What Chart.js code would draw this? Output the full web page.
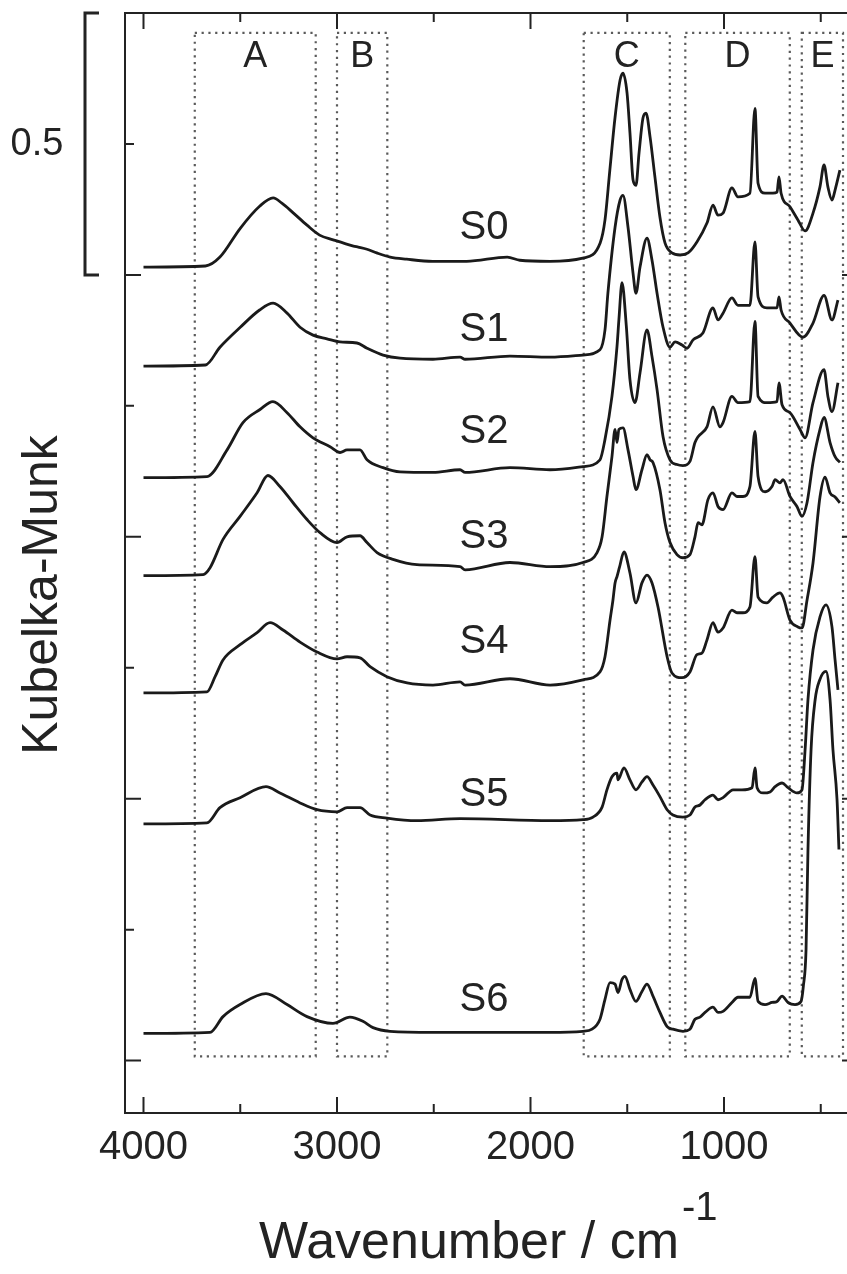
<!DOCTYPE html>
<html>
<head>
<meta charset="utf-8">
<script src="https://cdn.jsdelivr.net/npm/chart.js@4.4.1/dist/chart.umd.min.js"></script>
<style>
  html, body { margin: 0; padding: 0; background: #fff; overflow: hidden; }
  #wrap { position: absolute; left: 0; top: 0; width: 880px; height: 1274px; }
</style>
</head>
<body>
<div id="wrap"><canvas id="km" width="880" height="1274"></canvas></div>
<script>
  // DRIFT spectra, Kubelka-Munk units above each sample's own baseline: [wavenumber, KM]
  const S0 = [[4000,0],[3680,0.002],[3605,0.019],[3500,0.074],[3400,0.116],[3330,0.132],[3285,0.122],[3225,0.103],[3155,0.080],[3090,0.061],[3020,0.052],[2915,0.040],[2890,0.038],[2845,0.034],[2795,0.027],[2725,0.019],[2640,0.015],[2505,0.011],[2330,0.011],[2120,0.019],[2055,0.013],[1900,0.011],[1730,0.017],[1640,0.046],[1615,0.090],[1590,0.185],[1563,0.286],[1537,0.357],[1522,0.370],[1501,0.332],[1486,0.256],[1470,0.166],[1455,0.156],[1439,0.218],[1419,0.284],[1403,0.294],[1382,0.248],[1357,0.172],[1331,0.095],[1305,0.046],[1269,0.027],[1227,0.023],[1186,0.027],[1140,0.048],[1088,0.084],[1057,0.118],[1031,0.099],[1005,0.103],[959,0.151],[928,0.134],[866,0.141],[840,0.303],[824,0.160],[788,0.141],[747,0.141],[726,0.143],[716,0.172],[705,0.141],[659,0.115],[618,0.090],[581,0.069],[540,0.103],[504,0.153],[483,0.195],[463,0.153],[442,0.128],[426,0.147],[401,0.185]];
  const S1 = [[4000,0],[3680,0.002],[3605,0.036],[3500,0.074],[3400,0.107],[3330,0.120],[3258,0.101],[3191,0.074],[3124,0.059],[3052,0.052],[2984,0.046],[2897,0.044],[2845,0.034],[2762,0.021],[2674,0.015],[2504,0.013],[2364,0.017],[2338,0.013],[2106,0.019],[1899,0.017],[1729,0.021],[1641,0.031],[1615,0.069],[1600,0.139],[1563,0.265],[1537,0.317],[1522,0.326],[1496,0.265],[1470,0.177],[1455,0.139],[1434,0.189],[1398,0.244],[1372,0.202],[1346,0.139],[1315,0.074],[1279,0.036],[1253,0.046],[1217,0.040],[1191,0.034],[1160,0.050],[1109,0.063],[1057,0.111],[1031,0.088],[1005,0.101],[959,0.130],[928,0.116],[866,0.116],[840,0.237],[824,0.132],[778,0.111],[726,0.111],[716,0.132],[705,0.107],[659,0.082],[592,0.055],[540,0.082],[483,0.135],[442,0.088],[411,0.126]];
  const S2 = [[4000,0],[3672,0.002],[3568,0.053],[3486,0.105],[3398,0.130],[3331,0.145],[3258,0.124],[3191,0.097],[3124,0.076],[3036,0.059],[2984,0.048],[2948,0.053],[2881,0.053],[2845,0.034],[2762,0.019],[2674,0.011],[2504,0.010],[2364,0.015],[2338,0.010],[2106,0.019],[1899,0.015],[1729,0.021],[1641,0.034],[1615,0.073],[1579,0.155],[1553,0.250],[1543,0.302],[1527,0.372],[1505,0.290],[1486,0.187],[1460,0.143],[1434,0.200],[1398,0.282],[1372,0.231],[1346,0.168],[1315,0.078],[1279,0.034],[1243,0.025],[1212,0.023],[1176,0.031],[1150,0.067],[1134,0.078],[1088,0.097],[1057,0.135],[1021,0.097],[1005,0.105],[959,0.155],[928,0.143],[866,0.145],[840,0.298],[824,0.155],[778,0.143],[726,0.145],[716,0.181],[700,0.139],[659,0.124],[607,0.092],[581,0.076],[540,0.143],[483,0.206],[463,0.155],[442,0.126],[411,0.181]];
  const S3 = [[4000,0],[3692,0.002],[3656,0.015],[3589,0.069],[3501,0.113],[3413,0.158],[3357,0.191],[3295,0.170],[3227,0.139],[3155,0.107],[3088,0.082],[3000,0.063],[2948,0.074],[2881,0.076],[2845,0.063],[2793,0.044],[2711,0.031],[2587,0.021],[2364,0.017],[2338,0.011],[2106,0.025],[1899,0.017],[1729,0.025],[1656,0.044],[1630,0.074],[1605,0.151],[1579,0.227],[1563,0.279],[1553,0.254],[1543,0.279],[1522,0.282],[1496,0.240],[1470,0.189],[1455,0.164],[1424,0.202],[1398,0.231],[1382,0.221],[1367,0.216],[1331,0.164],[1305,0.101],[1279,0.063],[1243,0.040],[1212,0.034],[1176,0.040],[1150,0.074],[1134,0.101],[1114,0.097],[1083,0.145],[1057,0.158],[1031,0.132],[1005,0.126],[959,0.158],[933,0.151],[902,0.151],[866,0.170],[840,0.275],[824,0.189],[788,0.160],[752,0.170],[736,0.183],[711,0.177],[695,0.183],[659,0.151],[623,0.132],[597,0.113],[571,0.139],[540,0.216],[504,0.279],[483,0.302],[452,0.254],[426,0.227],[401,0.216]];
  const S4 = [[4000,0],[3672,0.002],[3630,0.031],[3589,0.063],[3501,0.092],[3413,0.115],[3346,0.134],[3279,0.120],[3191,0.097],[3103,0.078],[3000,0.065],[2948,0.069],[2881,0.067],[2829,0.050],[2742,0.031],[2638,0.019],[2504,0.015],[2364,0.021],[2338,0.015],[2106,0.027],[1899,0.015],[1729,0.025],[1641,0.040],[1615,0.069],[1589,0.139],[1574,0.177],[1563,0.210],[1553,0.222],[1540,0.240],[1517,0.269],[1486,0.229],[1455,0.172],[1424,0.210],[1398,0.225],[1372,0.210],[1341,0.164],[1294,0.069],[1269,0.038],[1217,0.029],[1176,0.040],[1140,0.073],[1114,0.076],[1088,0.101],[1057,0.134],[1031,0.116],[1005,0.124],[959,0.158],[933,0.153],[902,0.153],[866,0.164],[840,0.260],[824,0.183],[778,0.172],[747,0.183],[711,0.191],[695,0.183],[659,0.139],[618,0.126],[597,0.124],[571,0.177],[540,0.248],[504,0.374],[478,0.412],[452,0.382],[426,0.374],[401,0.363]];
  const S5 = [[4000,0],[3672,0.002],[3605,0.031],[3501,0.050],[3367,0.071],[3295,0.059],[3191,0.040],[3103,0.027],[3000,0.023],[2948,0.031],[2881,0.031],[2829,0.017],[2742,0.011],[2587,0.006],[2364,0.010],[1899,0.006],[1729,0.008],[1677,0.013],[1630,0.032],[1605,0.065],[1579,0.090],[1553,0.097],[1548,0.084],[1517,0.107],[1486,0.084],[1455,0.065],[1424,0.080],[1398,0.090],[1367,0.074],[1331,0.052],[1294,0.027],[1264,0.017],[1212,0.013],[1176,0.017],[1150,0.032],[1124,0.036],[1098,0.046],[1057,0.055],[1031,0.046],[1005,0.050],[953,0.065],[907,0.065],[855,0.069],[840,0.107],[829,0.069],[798,0.059],[762,0.061],[736,0.071],[700,0.078],[669,0.069],[623,0.059],[597,0.065],[581,0.141],[566,0.237],[540,0.332],[504,0.395],[473,0.418],[442,0.376],[426,0.313],[411,0.256]];
  const S6 = [[4000,0],[3656,0.002],[3589,0.032],[3501,0.055],[3367,0.076],[3258,0.055],[3155,0.032],[3021,0.019],[2933,0.031],[2866,0.023],[2814,0.011],[2726,0.004],[2504,0.002],[1899,0.002],[1729,0.004],[1682,0.008],[1641,0.027],[1615,0.065],[1589,0.097],[1563,0.094],[1548,0.078],[1527,0.103],[1512,0.109],[1486,0.084],[1455,0.061],[1424,0.080],[1398,0.094],[1367,0.071],[1331,0.040],[1294,0.013],[1264,0.008],[1212,0.004],[1176,0.008],[1150,0.027],[1124,0.031],[1098,0.040],[1057,0.050],[1031,0.040],[1005,0.042],[959,0.059],[928,0.069],[866,0.069],[840,0.105],[824,0.061],[788,0.055],[752,0.059],[726,0.061],[700,0.071],[669,0.059],[633,0.055],[602,0.061],[590,0.090],[576,0.160],[566,0.351],[550,0.542],[529,0.637],[505,0.675],[473,0.691],[452,0.637],[437,0.542],[416,0.447],[406,0.351]];

  const sampleNames = ['S0', 'S1', 'S2', 'S3', 'S4', 'S5', 'S6'];
  const spectra = [S0, S1, S2, S3, S4, S5, S6];
  // vertical stacking offset of each spectrum (KM units)
  const stackOffsets = [1.515, 1.326, 1.113, 0.926, 0.702, 0.452, 0.052];

  // band regions marked with dotted boxes (cm-1)
  const regionNames = ['A', 'B', 'C', 'D', 'E'];
  const regionFrom = [3735, 3000, 1725, 1200, 598];
  const regionTo = [3110, 2740, 1280, 660, 385];

  const xMajorTicks = [4000, 3000, 2000, 1000];
  const xMinorTicks = [3500, 2500, 1500, 500];
  const yMajorTicks = [0, 0.5, 1.0, 1.5];
  const yMinorTicks = [0.25, 0.75, 1.25, 1.75];
  const scaleBar = [1.5, 2.0]; // 0.5 KM

  const FONT = '"Liberation Sans", Arial, Helvetica, sans-serif';
  const INK = '#232323';
  // where the sample names sit (wavenumber, KM)
  const nameX = 2240;
  const nameY = [1.59, 1.395, 1.2, 1.0, 0.8, 0.508, 0.116];

  const decorations = {
    id: 'decorations',
    beforeDatasetsDraw(chart) {
      const { ctx, scales: { x, y } } = chart;
      const top = y.getPixelForValue(1.962), bottom = y.getPixelForValue(0.008);
      ctx.save();
      ctx.strokeStyle = '#5a5a5a';
      ctx.lineWidth = 2.2;
      ctx.setLineDash([2.2, 4.6]);
      regionNames.forEach((name, i) => {
        const l = x.getPixelForValue(regionFrom[i]), r = x.getPixelForValue(regionTo[i]);
        ctx.strokeRect(l, top, r - l, bottom - top);
      });
      ctx.setLineDash([]);
      ctx.fillStyle = INK;
      ctx.font = '36px ' + FONT;
      ctx.textAlign = 'center';
      ctx.textBaseline = 'middle';
      regionNames.forEach((name, i) => {
        const c = (x.getPixelForValue(regionFrom[i]) + x.getPixelForValue(regionTo[i])) / 2;
        ctx.fillText(name, c, y.getPixelForValue(1.916));
      });
      ctx.restore();
    },
    afterDatasetsDraw(chart) {
      const { ctx, chartArea: a, scales: { x, y } } = chart;
      ctx.save();
      ctx.strokeStyle = INK;
      ctx.fillStyle = INK;
      ctx.lineWidth = 2;
      ctx.strokeRect(a.left, a.top, a.right - a.left, a.bottom - a.top);

      // inward ticks on all four sides
      ctx.beginPath();
      const xt = (v, len) => {
        const px = x.getPixelForValue(v);
        ctx.moveTo(px, a.bottom); ctx.lineTo(px, a.bottom - len);
        ctx.moveTo(px, a.top); ctx.lineTo(px, a.top + len);
      };
      const yt = (v, len) => {
        const py = y.getPixelForValue(v);
        ctx.moveTo(a.left, py); ctx.lineTo(a.left + len, py);
        ctx.moveTo(a.right, py); ctx.lineTo(a.right - len, py);
      };
      xMajorTicks.forEach(v => xt(v, 16));
      xMinorTicks.forEach(v => xt(v, 9));
      yMajorTicks.forEach(v => yt(v, 16));
      yMinorTicks.forEach(v => yt(v, 9));
      ctx.stroke();

      // 0.5 scale bar
      const b0 = y.getPixelForValue(scaleBar[0]), b1 = y.getPixelForValue(scaleBar[1]);
      ctx.lineWidth = 3;
      ctx.beginPath();
      ctx.moveTo(99, b1); ctx.lineTo(85, b1); ctx.lineTo(85, b0); ctx.lineTo(99, b0);
      ctx.stroke();
      ctx.font = '38px ' + FONT;
      ctx.textAlign = 'center';
      ctx.textBaseline = 'middle';
      ctx.fillText(String(scaleBar[1] - scaleBar[0]), 37, (b0 + b1) / 2 + 1);

      // tick labels
      ctx.font = '40px ' + FONT;
      xMajorTicks.forEach(v => ctx.fillText(String(v), x.getPixelForValue(v), 1148));

      // sample names
      sampleNames.forEach((n, i) => ctx.fillText(n, x.getPixelForValue(nameX), y.getPixelForValue(nameY[i])));

      // axis titles
      ctx.font = '50px ' + FONT;
      ctx.save();
      ctx.translate(43, 595);
      ctx.rotate(-Math.PI / 2);
      ctx.fillText('Kubelka-Munk', 0, 0);
      ctx.restore();

      const main = 'Wavenumber / cm';
      ctx.font = '52px ' + FONT;
      const w = ctx.measureText(main).width;
      const start = 259;
      ctx.textAlign = 'left';
      ctx.textBaseline = 'alphabetic';
      ctx.fillText(main, start, 1258);
      ctx.font = '40px ' + FONT;
      ctx.fillText('-1', start + w + 3, 1220);
      ctx.restore();
    }
  };

  const datasets = spectra.map((s, i) => ({
    label: sampleNames[i],
    data: s.map(([wn, km]) => ({ x: wn, y: km + stackOffsets[i] })),
    borderColor: '#1a1a1a',
    borderWidth: 2.8,
    pointRadius: 0,
    fill: false,
    cubicInterpolationMode: 'monotone'
  }));

  new Chart(document.getElementById('km'), {
    type: 'line',
    data: { datasets },
    options: {
      responsive: false,
      animation: false,
      devicePixelRatio: 1,
      layout: { padding: { top: 13, right: 22, left: 0, bottom: 0 } },
      plugins: { legend: { display: false }, tooltip: { enabled: false } },
      scales: {
        x: {
          type: 'linear', reverse: true, min: 307.5, max: 4095.6,
          ticks: { display: false }, grid: { display: false }, border: { display: false },
          afterFit(s) { s.height = 161; }
        },
        y: {
          min: -0.1, max: 2.0,
          ticks: { display: false }, grid: { display: false }, border: { display: false },
          afterFit(s) { s.width = 125; }
        }
      }
    },
    plugins: [decorations]
  });
</script>
</body>
</html>
